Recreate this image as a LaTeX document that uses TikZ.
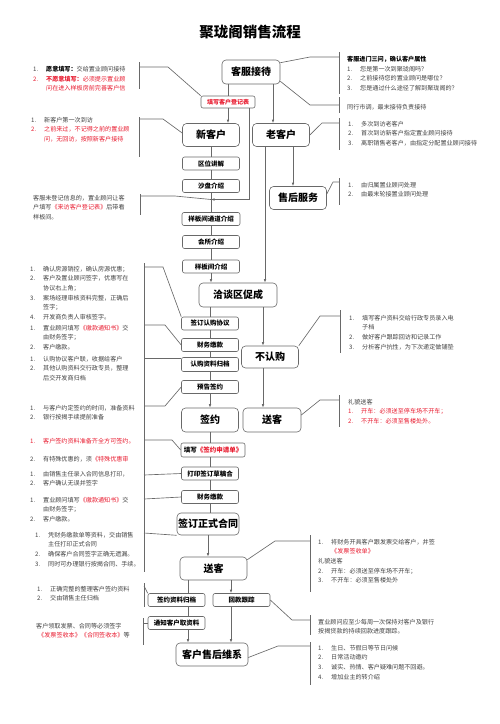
\documentclass[tikz,border=0pt]{standalone}
\usepackage{fontspec}
\setmainfont{Noto Sans CJK SC}
\usepackage{tikz}
\usetikzlibrary{arrows.meta}

\definecolor{linegray}{RGB}{105,105,105}
\definecolor{notegray}{RGB}{65,65,65}
\definecolor{notered}{RGB}{232,28,48}
\newcommand{\ino}[1]{\makebox[13pt][l]{#1}}
\newcommand{\rd}[1]{\textcolor{notered}{#1}}

\begin{document}
\begin{tikzpicture}[x=1pt,y=-1pt]
  \useasboundingbox (0,0) rectangle (500,724);

  % Define styles for boxes, lines and notes
  \tikzset{
    mainbox/.style={draw=linegray, line width=0.6pt, rounded corners=4pt, minimum width=57pt, minimum height=23pt, inner sep=0pt, font=\fontsize{10}{12}\selectfont\bfseries},
    smallbox/.style={draw=linegray, line width=0.6pt, rounded corners=2pt, minimum width=57pt, minimum height=13pt, inner sep=0pt, font=\fontsize{6.5}{8}\selectfont\bfseries},
    myline/.style={draw=linegray, line width=0.65pt},
    myarrow/.style={myline, -{Latex[length=3.5pt,width=2.6pt]}},
    mynote/.style={anchor=north west, inner sep=0pt, align=left, text=notegray, font=\fontsize{6.1}{9.6}\selectfont}
  }

  \node[font=\fontsize{14.5}{16}\selectfont\bfseries] (title) at (250,32) {聚珑阁销售流程};

  % Main flow boxes
  \node[mainbox, minimum width=58pt, minimum height=24pt] (kfjd) at (251,72) {客服接待};
  \node[smallbox, minimum width=54pt, minimum height=12pt, text=notered, font=\fontsize{6}{7}\selectfont\bfseries] (djb) at (228,102) {填写客户登记表};
  \node[mainbox] (xkh) at (211,135) {新客户};
  \node[mainbox] (lkh) at (281,135) {老客户};
  \node[smallbox] (qwjj) at (211,163.5) {区位讲解};
  \node[smallbox] (spjs) at (211,186) {沙盘介绍};
  \node[mainbox] (shfw) at (298,198) {售后服务};
  \node[smallbox, minimum width=58pt] (tdjs) at (211,219) {样板间通道介绍};
  \node[smallbox] (hsjs) at (211,242) {会所介绍};
  \node[smallbox] (ybjs) at (211,266.5) {样板间介绍};
  \node[mainbox, minimum width=78pt, minimum height=24pt] (qtcc) at (238,295) {洽谈区促成};
  \node[smallbox] (rgxy) at (210,323.5) {签订认购协议};
  \node[smallbox] (cwjk) at (210,345) {财务缴款};
  \node[mainbox, minimum height=22pt] (brg) at (270,357) {不认购};
  \node[smallbox, minimum height=14pt] (rgzl) at (210,364.5) {认购资料归档};
  \node[smallbox] (ygqy) at (210,387) {预告签约};
  \node[mainbox, minimum height=24pt] (qy) at (210,420) {签约};
  \node[mainbox, minimum width=58pt, minimum height=24pt] (sk1) at (272,420) {送客};
  \node[smallbox, minimum width=64pt, minimum height=14pt] (sqd) at (213,450) {填写\rd{《签约申请单》}};
  \node[smallbox] (dygh) at (210,473.5) {打印签订草稿合};
  \node[smallbox] (cwjk2) at (210,497) {财务缴款};
  \node[mainbox, minimum width=62pt, minimum height=22pt] (zsht) at (208,524) {签订正式合同};
  \node[mainbox, minimum width=67pt] (sk2) at (213.5,568.5) {送客};
  \node[smallbox] (qyzl) at (176.5,600) {签约资料归档};
  \node[smallbox] (hkgz) at (241.5,600) {回款跟踪};
  \node[smallbox] (tzqz) at (176.5,623) {通知客户取资料};
  \node[mainbox, minimum width=72pt] (shwx) at (212,654.5) {客户售后维系};

  % Connectors of the main flow
  \draw[myline] (kfjd.south -| djb) -- (djb.north);
  \draw[myarrow] (djb.south) -- (xkh.north -| djb);
  \coordinate (lkhin) at ([xshift=-8pt]lkh.north);
  \draw[myarrow] (kfjd.south -| lkhin) -- (lkhin);
  \coordinate (joinA) at (211,199.5);
  \draw[myarrow] ([xshift=-6pt]djb.south east) |- (joinA);
  \draw[myline] (xkh) -- (qwjj);
  \draw[myline] (qwjj) -- (spjs);
  \draw[myline] (spjs) -- (tdjs);
  \draw[myline] (tdjs) -- (hsjs);
  \draw[myline] (hsjs) -- (ybjs);
  \draw[myarrow] (ybjs) -- (ybjs |- qtcc.north);
  \coordinate (lkhout1) at ([xshift=-16pt]lkh.south);
  \draw[myarrow] (lkhout1) -- (lkhout1 |- qtcc.north);
  \coordinate (lkhout2) at ([xshift=12pt]lkh.south);
  \draw[myarrow] (lkhout2) -- (lkhout2 |- shfw.north);
  \draw[myline] (qtcc.south -| rgxy) -- (rgxy);
  \draw[myline] (rgxy) -- (cwjk);
  \draw[myline] (cwjk) -- (rgzl);
  \draw[myline] (rgzl) -- (ygqy);
  \draw[myarrow] (ygqy) -- (qy);
  \coordinate (brgin) at ([xshift=-7pt]brg.north);
  \draw[myarrow] (qtcc.south -| brgin) -- (brgin);
  \draw[myarrow] ([xshift=-7pt]brg.south) -- (sk1.north -| brgin);
  \draw[myline] (qy.south) -- (qy.south |- sqd.north);
  \draw[myline] (sqd.south -| dygh) -- (dygh.north);
  \draw[myline] (dygh) -- (cwjk2);
  \draw[myline] (cwjk2.south) -- (cwjk2.south |- zsht.north);
  \draw[myarrow] (zsht.south) -- (zsht.south |- sk2.north);
  \coordinate (qyzlin) at ([xshift=11.5pt]qyzl.north);
  \draw[myline] (sk2.south -| qyzlin) -- (qyzlin);
  \coordinate (hkgzin) at ([xshift=-10.5pt]hkgz.north);
  \draw[myarrow] (sk2.south -| hkgzin) -- (hkgzin);
  \draw[myline] (qyzl.south -| qyzlin) -- (tzqz.north -| qyzlin);
  \draw[myarrow] (tzqz.south -| qyzlin) -- (shwx.north -| qyzlin);
  \draw[myarrow] (hkgz.south -| hkgzin) -- (shwx.north -| hkgzin);

  % Notes on the right
  \coordinate (n1) at (339,57);
  \coordinate (n2) at (339,105);
  \coordinate (n3) at (339,123);
  \coordinate (n4) at (339,182);
  \coordinate (n5) at (340,316);
  \coordinate (n6) at (339,400);
  \coordinate (n7) at (310,541);
  \coordinate (n8) at (310,620);
  \coordinate (n9) at (310,646);
  \draw[myline] (339,52) -- (339,94);
  \draw[myline] (339,97) -- (339,113);
  \draw[myline] (339,118) -- (339,150);
  \draw[myline] (339,178) -- (339,205);
  \draw[myline] (340,310) -- (340,353);
  \draw[myline] (339,395) -- (339,427);
  \draw[myline] (310,535) -- (310,592);
  \draw[myline] (310,615) -- (310,635);
  \draw[myline] (310,642) -- (310,685);
  \draw[myline] ([yshift=-3pt]kfjd.north east) -- ([xshift=-29pt]n1) -- (n1);
  \draw[myline] ([yshift=3pt]kfjd.south east) -- ([xshift=-29pt]n2) -- (n2);
  \draw[myline] (lkh.east) -- ([xshift=-17pt]n3) -- (n3);
  \draw[myline] ([yshift=4pt]shfw.east) -- ([xshift=-6pt]n4) -- (n4);
  \draw[myline] (brg.north east) -- ([xshift=-20pt]n5) -- (n5);
  \draw[myline] ([yshift=5pt]sk1.east) -- ([xshift=-19pt]n6) -- (n6);
  \draw[myline] ([yshift=-3pt]sk2.north east) -- ([xshift=-35pt]n7) -- (n7);
  \draw[myline] (hkgz.east) -- ([xshift=-18pt]n8) -- (n8);
  \draw[myline] ([yshift=-3pt]shwx.east) -- ([xshift=-32pt]n9) -- (n9);

  \node[mynote] (r1) at (347,56) {\textbf{\textcolor{black}{客服进门三问，确认客户属性}}\\
    \ino{1.}您是第一次到聚珑阁吗？\\
    \ino{2.}之前接待您的置业顾问是哪位？\\
    \ino{3.}您是通过什么途径了解到聚珑阁的？};
  \node[mynote] (r2) at (347,104) {同行市调，最末接待负责接待};
  \node[mynote] (r3) at (348,121) {\ino{1.}多次到访老客户\\
    \ino{2.}首次到访新客户指定置业顾问接待\\
    \ino{3.}离职销售老客户，由指定分配置业顾问接待};
  \node[mynote] (r4) at (348,182) {\ino{1.}由归属置业顾问处理\\
    \ino{2.}由最末轮接置业顾问处理};
  \node[mynote] (r5) at (349,315) {\ino{1.}填写客户资料交给行政专员录入电\\
    \hspace*{13pt}子档\\
    \ino{2.}做好客户跟踪回访和记录工作\\
    \ino{3.}分析客户抗性，为下次递定做铺垫};
  \node[mynote] (r6) at (348,399) {礼貌送客\\
    \rd{\ino{1.}开车：必须送至停车场不开车；}\\
    \rd{\ino{2.}不开车：必须至售楼处外。}};
  \node[mynote] (r7) at (318,539) {\ino{1.}将财务开具客户跟发票交给客户，并签\\
    \hspace*{13pt}\rd{《发票签收单》}\\
    礼貌送客\\
    \ino{2.}开车：必须送至停车场不开车；\\
    \ino{3.}不开车：必须至售楼处外};
  \node[mynote] (r8) at (318,619) {置业顾问应至少每周一次保持对客户及银行\\
    按揭贷款的持续回款进度跟踪。};
  \node[mynote] (r9) at (318,645) {\ino{1.}生日、节假日等节日问候\\
    \ino{2.}日常活动邀约\\
    \ino{3.}诚实、热情、客户疑难问题不回避。\\
    \ino{4.}增加业主的转介绍};

  % Notes on the left
  \coordinate (m1) at (139,67);
  \coordinate (m2) at (139,119);
  \coordinate (m3) at (140,196);
  \coordinate (m4) at (144,267);
  \coordinate (m5) at (144,325);
  \coordinate (m6) at (144,358);
  \coordinate (m7) at (144,406);
  \coordinate (m8) at (144,440);
  \coordinate (m9) at (144,475);
  \coordinate (m10) at (144,499);
  \coordinate (m11) at (144,533);
  \coordinate (m12) at (144,586);
  \coordinate (m13) at (143,623);
  \draw[myline] (139,62) -- (139,89);
  \draw[myline] (139,117) -- (139,157);
  \draw[myline] (140,194) -- (140,215);
  \draw[myline] (144,263) -- (144,572);
  \draw[myline] (144,583) -- (144,607);
  \draw[myline] (143,618) -- (143,645);
  \draw[myline] (djb.north west) -- ([xshift=29pt]m1) -- (m1);
  \draw[myline] ([yshift=2pt]xkh.west) -- ([xshift=24pt]m2) -- (m2);
  \draw[myline] (joinA) -- ([xshift=35pt]m3) -- (m3);
  \draw[myline] (rgxy.north west) -- ([xshift=19pt]m4) -- (m4);
  \draw[myline] (cwjk.west) -- ([xshift=21pt]m5) -- (m5);
  \draw[myline] (m6 -| rgzl.west) -- (m6);
  \draw[myline] (ygqy.west) -- ([xshift=21pt]m7) -- (m7);
  \draw[myline] (sqd.west) -- ([xshift=28pt]m8) -- (m8);
  \draw[myline] (dygh.west) -- (m9);
  \draw[myline] (cwjk2.west) -- (m10);
  \draw[myline] (zsht.south west) -- (m11);
  \draw[myline] (qyzl.north west) -- (m12);
  \draw[myline] (tzqz.west) -- (m13);

  \node[mynote] (l1) at (33,66) {\ino{1.}\textbf{\textcolor{black}{愿意填写：}}交给置业顾问接待\\
    \rd{\ino{2.}\textbf{不愿意填写：}必须提示置业顾}\\
    \rd{\hspace*{13pt}问在进入样板房前完善客户信}};
  \node[mynote] (l2) at (31,117) {\ino{1.}新客户第一次到访\\
    \rd{\ino{2.}之前来过，不记得之前的置业顾}\\
    \rd{\hspace*{13pt}问，无回访，按照新客户接待}};
  \node[mynote] (l3) at (33,195) {客服未登记信息的，置业顾问让客\\
    户填写\rd{《来访客户登记表》}后带看\\
    样板间。};
  \node[mynote] (l4) at (30,266) {\ino{1.}确认房源销控，确认房源优惠；\\
    \ino{2.}客户及置业顾问签字，优惠写在\\
    \hspace*{13pt}协议右上角；\\
    \ino{3.}案场经理审核资料完整，正确后\\
    \hspace*{13pt}签字；\\
    \ino{4.}开发商负责人审核签字。};
  \node[mynote] (l5) at (30,325) {\ino{1.}置业顾问填写\rd{《缴款通知书》}交\\
    \hspace*{13pt}由财务签字；\\
    \ino{2.}客户缴款。};
  \node[mynote] (l6) at (30,356) {\ino{1.}认购协议客户联，收据给客户\\
    \ino{2.}其他认购资料交行政专员，整理\\
    \hspace*{13pt}后交开发商归档};
  \node[mynote] (l7) at (30,405) {\ino{1.}与客户约定签约的时间，准备资料\\
    \ino{2.}银行按揭手续提前准备};
  \node[mynote] (l8) at (30,438) {\rd{\ino{1.}客户签约资料准备齐全方可签约。}\\[8.4pt]
    \ino{2.}有特殊优惠的，须\rd{《特殊优惠审}};
  \node[mynote] (l9) at (30,471) {\ino{1.}由销售主任录入合同信息打印，\\
    \ino{2.}客户确认无误并签字};
  \node[mynote] (l10) at (30,497) {\ino{1.}置业顾问填写\rd{《缴款通知书》}交\\
    \hspace*{13pt}由财务签字；\\
    \ino{2.}客户缴款。};
  \node[mynote] (l11) at (35,532) {\ino{1.}凭财务缴款单等资料，交由销售\\
    \hspace*{13pt}主任打印正式合同\\
    \ino{2.}确保客户合同签字正确无遗漏。\\
    \ino{3.}同时可办理银行按揭合同、手续。};
  \node[mynote] (l12) at (37,586) {\ino{1.}正确完整的整理客户签约资料\\
    \ino{2.}交由销售主任归档};
  \node[mynote] (l13) at (36,623) {客户领取发票、合同等必须签字\\
    \hspace*{2pt}\rd{《发票签收本》《合同签收本》}等};

\end{tikzpicture}
\end{document}
